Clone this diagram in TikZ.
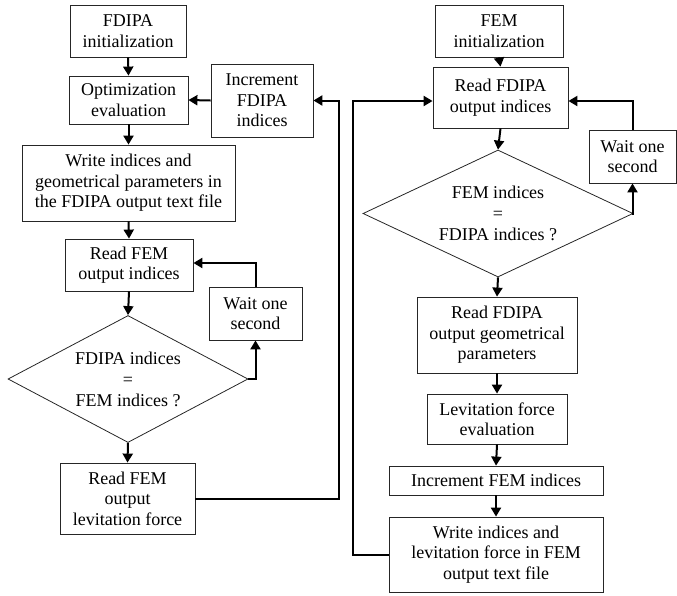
\documentclass[tikz,border=0pt]{standalone}
\usepackage{fontspec}
\setmainfont{Liberation Serif}
\usetikzlibrary{shapes.geometric,arrows.meta,calc}
\begin{document}
\begin{tikzpicture}[x=1pt,y=-1pt,
  box/.style={draw=black!85, line width=0.8pt, align=center, inner sep=0pt,
    font=\fontsize{18}{20.5}\selectfont},
  dia/.style={draw=black!85, line width=0.8pt, diamond, inner sep=0pt},
  diatext/.style={align=center, inner sep=0pt, font=\fontsize{18}{21}\selectfont},
  arr/.style={line width=2pt, -{Triangle[length=9pt,width=10pt]}}]
\useasboundingbox (0,0) rectangle (677,595);
% left column
\node[box, minimum width=116, minimum height=52] (init1) at (128,31) {FDIPA\\initialization};
\node[box, minimum width=119, minimum height=48] (opt) at (128.5,100) {Optimization\\evaluation};
\node[box, minimum width=102, minimum height=73] (incF) at (262,100.5) {Increment\\FDIPA\\indices};
\node[box, minimum width=213, minimum height=76] (write1) at (128.5,183) {Write indices and\\geometrical parameters in\\the FDIPA output text file};
\node[box, minimum width=128, minimum height=52] (readFEM) at (129,265) {Read FEM\\output indices};
\node[box, minimum width=93, minimum height=53] (wait1) at (255.5,313.5) {Wait one\\second};
\node[dia, minimum width=240, minimum height=127] (dia1) at (128,379) {};
\node[diatext] (dia1t) at (dia1.center) {FDIPA indices\\=\\FEM indices ?};
\node[box, minimum width=135, minimum height=71] (readLev) at (127.5,498.5) {Read FEM\\output\\levitation force};
% right column
\node[box, minimum width=128, minimum height=52] (initR) at (499,31) {FEM\\initialization};
\node[box, minimum width=135, minimum height=61] (readFD) at (500.5,97.5) {Read FDIPA\\output indices};
\node[box, minimum width=87, minimum height=53] (wait2) at (632.5,156.5) {Wait one\\second};
\node[dia, minimum width=270, minimum height=127] (dia2) at (498,213.5) {};
\node[diatext] (dia2t) at (dia2.center) {FEM indices\\=\\FDIPA indices ?};
\node[box, minimum width=160, minimum height=76] (readGeo) at (497,335) {Read FDIPA\\output geometrical\\parameters};
\node[box, minimum width=140, minimum height=50] (levEval) at (497,419) {Levitation force\\evaluation};
\node[box, minimum width=214, minimum height=29] (incFEM) at (496,480.5) {Increment FEM indices};
\node[box, minimum width=214, minimum height=75] (write2) at (496,554.5) {Write indices and\\levitation force in FEM\\output text file};
\coordinate (c1) at (339,300);
\coordinate (c2) at (353,300);
% left connectors
\draw[arr] (init1.south) -- (opt.north);
\draw[arr] (incF.west) -- (opt.east);
\draw[arr] (opt.south) -- (write1.north);
\draw[arr] (write1.south) -- (readFEM.north);
\draw[arr] (readFEM.south) -- (dia1.north);
\draw[arr] (dia1.east) -| (wait1.south);
\draw[arr] (wait1.north) |- ($(readFEM.east)+(0,-2)$);
\draw[arr] (dia1.south) -- (readLev.north);
\draw[arr] (readLev.east) -| (c1) |- (incF.east);
% right connectors
\draw[arr] (initR.south) -- (readFD.north);
\draw[arr] (write2.west) -| (c2) |- ($(readFD.west)+(0,3.5)$);
\draw[arr] (readFD.south) -- (dia2.north);
\draw[arr] (dia2.east) -| (wait2.south);
\draw[arr] (wait2.north) |- ($(readFD.east)+(0,3.5)$);
\draw[arr] (dia2.south) -- (readGeo.north);
\draw[arr] (readGeo.south) -- (levEval.north);
\draw[arr] (levEval.south) -- (incFEM.north);
\draw[arr] (incFEM.south) -- (write2.north);
\end{tikzpicture}
\end{document}
